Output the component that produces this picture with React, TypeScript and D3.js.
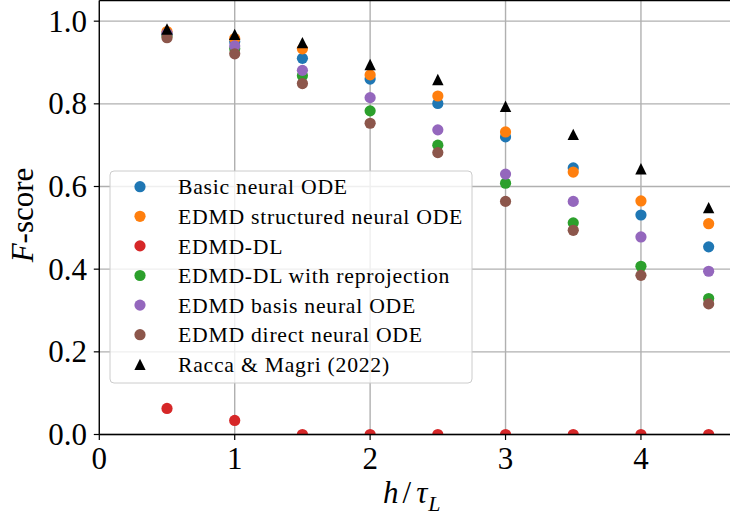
import React from "react";
import * as d3 from "d3";

const hValues = [0.5, 1, 1.5, 2, 2.5, 3, 3.5, 4, 4.5];
const basicNeuralODE = [0.97, 0.95, 0.91, 0.86, 0.801, 0.72, 0.645, 0.531, 0.454];
const edmdStructured = [0.975, 0.958, 0.933, 0.87, 0.819, 0.732, 0.635, 0.565, 0.51];
const edmdDL = [0.063, 0.034, 0, 0, 0, 0, 0, 0, 0];
const edmdDLReproj = [0.965, 0.933, 0.868, 0.783, 0.7, 0.608, 0.512, 0.407, 0.329];
const edmdBasis = [0.97, 0.94, 0.881, 0.815, 0.737, 0.63, 0.564, 0.478, 0.395];
const edmdDirect = [0.96, 0.921, 0.849, 0.753, 0.682, 0.564, 0.494, 0.385, 0.316];
const raccaMagri = [0.981, 0.968, 0.948, 0.895, 0.859, 0.794, 0.726, 0.643, 0.549];

const seriesNames = [
  "Basic neural ODE",
  "EDMD structured neural ODE",
  "EDMD-DL",
  "EDMD-DL with reprojection",
  "EDMD basis neural ODE",
  "EDMD direct neural ODE",
  "Racca & Magri (2022)",
];
const seriesValues = [basicNeuralODE, edmdStructured, edmdDL, edmdDLReproj, edmdBasis, edmdDirect, raccaMagri];
const seriesColors = ["#1f77b4", "#ff7f0e", "#d62728", "#2ca02c", "#9467bd", "#8c564b", "#000000"];
const seriesMarkers = ["circle", "circle", "circle", "circle", "circle", "circle", "triangle"];

const xTicks = [0, 1, 2, 3, 4];
const yTicks = [0, 0.2, 0.4, 0.6, 0.8, 1.0];

const W = 730;
const H = 517;
const left = 99.3;
const right = 731;
const top = 0.5;
const bottom = 434.5;

const serif = "'Liberation Serif', 'Times New Roman', serif";

function Marker({ kind, color, r }: { kind: string; color: string; r: number }) {
  if (kind === "triangle") {
    const h = r;
    return <path d={`M0,${-h}L${h},${h}L${-h},${h}Z`} fill={color} />;
  }
  return <circle r={r} fill={color} />;
}

export default function App() {
  const x = d3.scaleLinear().domain([0, 4.665]).range([left, right]);
  const y = d3.scaleLinear().domain([0, 1.05]).range([bottom, top]);

  const legendX = 110;
  const legendY = 171;
  const legendW = 362;
  const legendH = 212;
  const rowY0 = 186.7;
  const rowStep = 29.6;

  return (
    <svg
      width={W}
      height={H}
      style={{ position: "absolute", left: 0, top: 0, background: "#fff" }}
      fontFamily={serif}
    >
      <defs>
        <clipPath id="plotClip">
          <rect x={left} y={top} width={right - left} height={bottom - top} />
        </clipPath>
      </defs>
      <rect x={0} y={0} width={W} height={H} fill="#fff" />
      {/* grid */}
      <g stroke="#b0b0b0" strokeWidth={1.4}>
        {xTicks.map((t) => (
          <line key={"gx" + t} x1={x(t)} x2={x(t)} y1={top} y2={bottom} />
        ))}
        {yTicks.map((t) => (
          <line key={"gy" + t} x1={left} x2={right} y1={y(t)} y2={y(t)} />
        ))}
      </g>
      {/* data */}
      <g clipPath="url(#plotClip)">
        {seriesValues.map((vals, si) => (
          <g key={si}>
            {vals.map((v, i) => (
              <g key={i} transform={`translate(${x(hValues[i])},${y(v)})`}>
                <Marker kind={seriesMarkers[si]} color={seriesColors[si]} r={si === 6 ? 5.7 : 5.6} />
              </g>
            ))}
          </g>
        ))}
      </g>
      {/* spines */}
      <g stroke="#000" strokeWidth={1.3} fill="none">
        <line x1={left} x2={left} y1={top} y2={bottom} />
        <line x1={left} x2={right} y1={bottom} y2={bottom} />
        <line x1={left} x2={right} y1={top} y2={top} />
        <line x1={right} x2={right} y1={top} y2={bottom} />
      </g>
      {/* ticks */}
      <g stroke="#000" strokeWidth={1.2}>
        {xTicks.map((t) => (
          <line key={"tx" + t} x1={x(t)} x2={x(t)} y1={bottom} y2={bottom + 5.5} />
        ))}
        {yTicks.map((t) => (
          <line key={"ty" + t} x1={left - 5.5} x2={left} y1={y(t)} y2={y(t)} />
        ))}
      </g>
      <g fontSize={31} fill="#000">
        {xTicks.map((t) => (
          <text key={"lx" + t} x={x(t)} y={469} textAnchor="middle">
            {d3.format("d")(t)}
          </text>
        ))}
        {yTicks.map((t) => (
          <text key={"ly" + t} x={87} y={y(t) + 10.5} textAnchor="end">
            {d3.format(".1f")(t)}
          </text>
        ))}
      </g>
      {/* axis labels */}
      <text x={383} y={503} fontSize={31}>
        <tspan fontStyle="italic">h</tspan>
        <tspan dx={4}>/</tspan>
        <tspan fontStyle="italic" dx={5}>τ</tspan>
        <tspan fontStyle="italic" fontSize={22} dx={1} dy={8}>L</tspan>
      </text>
      <text transform="translate(33,215) rotate(-90)" textAnchor="middle" fontSize={31}>
        <tspan fontStyle="italic">F</tspan>
        <tspan>-score</tspan>
      </text>
      {/* legend */}
      <rect
        x={legendX}
        y={legendY}
        width={legendW}
        height={legendH}
        rx={4}
        fill="#fff"
        fillOpacity={0.8}
        stroke="#cccccc"
        strokeWidth={1}
      />
      {seriesNames.map((name, i) => {
        const ry = rowY0 + i * rowStep;
        return (
          <g key={name}>
            <g transform={`translate(140,${ry})`}>
              <Marker kind={seriesMarkers[i]} color={seriesColors[i]} r={5.6} />
            </g>
            <text x={178} y={ry + 7.6} fontSize={21.7} letterSpacing={0.75} fill="#000">
              {name}
            </text>
          </g>
        );
      })}
    </svg>
  );
}
